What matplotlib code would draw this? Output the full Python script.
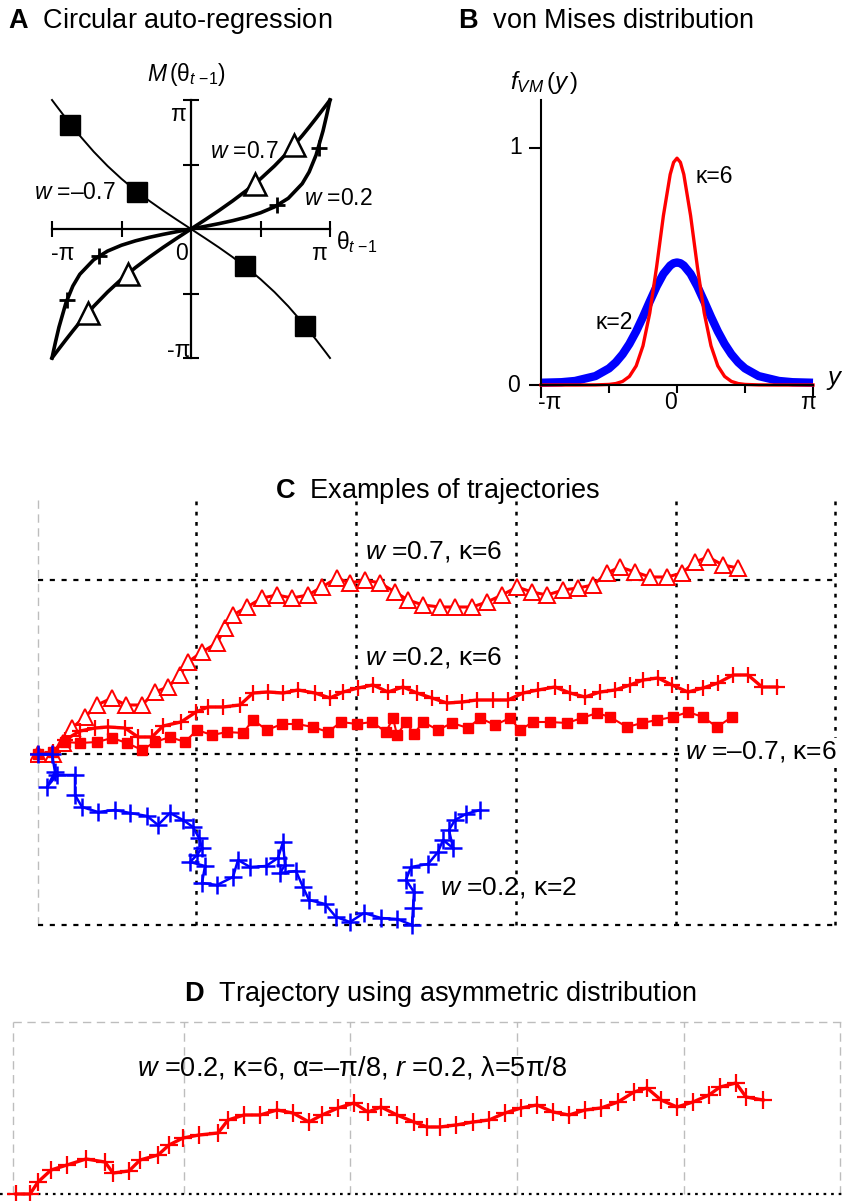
import numpy as np
import matplotlib
matplotlib.use("Agg")
import matplotlib.pyplot as plt

plt.rcParams['font.family'] = ['Liberation Sans', 'DejaVu Sans']
plt.rcParams['mathtext.fontset'] = 'custom'
plt.rcParams['mathtext.rm'] = 'Liberation Sans'
plt.rcParams['mathtext.it'] = 'Liberation Sans:italic'
plt.rcParams['mathtext.bf'] = 'Liberation Sans:bold'

PI = np.pi

# ---------------- data: panel A (fractions of pi) ----------------
a_theta_w02 = [-1, -0.99, -0.975, -0.95, -0.9, -0.85, -0.8, -0.7, -0.6, -0.5, -0.4, -0.3, -0.2, -0.1, 0,
               0.1, 0.2, 0.3, 0.4, 0.5, 0.6, 0.7, 0.8, 0.85, 0.9, 0.95, 0.975, 0.99, 1]
a_m_w02 = [-1, -0.95, -0.8765, -0.7614, -0.5735, -0.4422, -0.3512, -0.2382, -0.171, -0.1257, -0.0919, -0.0647,
           -0.0413, -0.0202, 0, 0.0202, 0.0413, 0.0647, 0.0919, 0.1257, 0.171, 0.2382, 0.3512, 0.4422, 0.5735,
           0.7614, 0.8765, 0.95, 1]
a_theta_w07 = [-1, -0.975, -0.95, -0.9, -0.85, -0.8, -0.7, -0.6, -0.5, -0.4, -0.3, -0.2, -0.1, 0,
               0.1, 0.2, 0.3, 0.4, 0.5, 0.6, 0.7, 0.8, 0.85, 0.9, 0.95, 0.975, 1]
a_m_w07 = [-1, -0.964, -0.9287, -0.8584, -0.7898, -0.7233, -0.5994, -0.4882, -0.3888, -0.2993, -0.2183, -0.1423,
           -0.0703, 0, 0.0703, 0.1423, 0.2183, 0.2993, 0.3888, 0.4882, 0.5994, 0.7233, 0.7898, 0.8584, 0.9287,
           0.964, 1]
a_m_wm07 = [1, 0.964, 0.9287, 0.8584, 0.7898, 0.7233, 0.5994, 0.4882, 0.3888, 0.2993, 0.2183, 0.1423,
            0.0703, 0, -0.0703, -0.1423, -0.2183, -0.2993, -0.3888, -0.4882, -0.5994, -0.7233, -0.7898, -0.8584,
            -0.9287, -0.964, -1]
a_tri_x = [-0.74, -0.45, 0.46, 0.74]
a_tri_y = [-0.65, -0.35, 0.35, 0.65]
a_plus_x = [-0.89, -0.66, 0.62, 0.92]
a_plus_y = [-0.55, -0.21, 0.185, 0.63]
a_sq_x = [-0.87, -0.39, 0.39, 0.82]
a_sq_y = [0.81, 0.29, -0.29, -0.75]

# ---------------- data: panel B ----------------
b_y_frac = [-1, -0.85, -0.75, -0.6, -0.5, -0.45, -0.4, -0.35, -0.3, -0.25, -0.2, -0.15, -0.1, -0.05, -0.025, 0,
            0.025, 0.05, 0.1, 0.15, 0.2, 0.25, 0.3, 0.35, 0.4, 0.45, 0.5, 0.6, 0.75, 0.85, 1]
b_kappa6 = [0, 0, 0, 0.0004, 0.0024, 0.0061, 0.0151, 0.0361, 0.0805, 0.165, 0.304, 0.497, 0.713, 0.887, 0.9375,
            0.955, 0.9375, 0.887, 0.713, 0.497, 0.304, 0.165, 0.0805, 0.0361, 0.0151, 0.0061, 0.0024, 0.0004, 0,
            0, 0]
b_kappa2 = [0.0095, 0.0118, 0.017, 0.0376, 0.0698, 0.0955, 0.1295, 0.173, 0.226, 0.287, 0.352, 0.415, 0.468,
            0.503, 0.5128, 0.516, 0.5128, 0.503, 0.468, 0.415, 0.352, 0.287, 0.226, 0.173, 0.1295, 0.0955, 0.0698,
            0.0376, 0.017, 0.0118, 0.0095]

# ---------------- data: panel C (position units) ----------------
c_tri_x = [0, 15, 25, 34, 47, 59, 74, 88, 104, 117, 130, 142, 150, 164, 179, 187, 195, 209, 224, 239, 254, 270,
           284, 299, 312, 327, 342, 357, 370, 385, 402, 417, 434, 449, 464, 479, 494, 509, 525, 540, 555, 569,
           582, 597, 612, 629, 644, 657, 670, 685, 700]
c_tri_y = [0, 0, 11, 26, 37, 49, 56, 49, 49, 62, 67, 79, 92, 102, 111, 126, 139, 147, 156, 159, 156, 159, 167,
           176, 171, 174, 171, 162, 154, 149, 147, 147, 147, 152, 159, 167, 162, 159, 164, 166, 169, 181, 187,
           182, 177, 177, 181, 192, 197, 189, 186]
c_plus_x = [0, 15, 27, 42, 57, 70, 87, 100, 114, 125, 143, 158, 170, 185, 202, 215, 230, 245, 260, 277, 292,
            305, 320, 335, 350, 365, 379, 394, 409, 424, 439, 455, 470, 485, 500, 517, 532, 547, 562, 577, 592,
            605, 620, 634, 650, 665, 680, 695, 710, 724, 739]
c_plus_y = [0, 2, 14, 23, 26, 27, 26, 17, 17, 28, 32, 42, 47, 47, 49, 61, 62, 61, 64, 61, 56, 62, 66, 69, 62,
            67, 61, 56, 51, 52, 54, 54, 54, 61, 64, 67, 61, 57, 62, 64, 69, 74, 76, 69, 62, 66, 71, 79, 79, 67, 67]
c_sq_x = [0, 15, 27, 42, 59, 74, 89, 104, 117, 132, 147, 159, 174, 189, 205, 215, 229, 244, 259, 275, 290, 303,
          319, 334, 348, 355, 359, 368, 376, 385, 400, 414, 430, 442, 457, 472, 482, 495, 512, 529, 544, 559,
          572, 589, 604, 619, 635, 650, 665, 679, 694]
c_sq_y = [0, 2, 12, 11, 12, 16, 11, 4, 12, 17, 12, 24, 19, 22, 21, 34, 24, 30, 30, 27, 22, 32, 30, 32, 22, 36,
          19, 32, 20, 32, 24, 31, 26, 36, 29, 36, 24, 32, 32, 31, 36, 41, 37, 27, 31, 34, 37, 42, 37, 27, 37]
c_blue_x = [0, 14, 17, 9, 19, 37, 37, 44, 60, 77, 92, 109, 120, 132, 145, 155, 161, 164, 159, 152, 167, 164,
            179, 195, 200, 212, 228, 240, 245, 247, 242, 258, 265, 271, 287, 298, 312, 326, 343, 359, 374, 375,
            376, 368, 373, 390, 400, 405, 415, 411, 417, 428, 442]
c_blue_y = [0, 0, -18, -33, -21, -21, -41, -53, -58, -56, -59, -62, -71, -59, -66, -73, -84, -94, -101, -108,
            -112, -129, -131, -123, -106, -113, -112, -104, -88, -111, -119, -117, -133, -146, -150, -163, -168,
            -159, -164, -165, -171, -154, -138, -126, -113, -110, -98, -86, -94, -76, -66, -60, -56]

# ---------------- data: panel D (position units) ----------------
d_x = [0, 14, 22, 35, 51, 70, 89, 97, 113, 124, 142, 153, 167, 183, 202, 212, 228, 244, 261, 277, 293, 306, 322,
       338, 352, 365, 381, 398, 411, 424, 440, 457, 473, 489, 505, 521, 537, 553, 569, 585, 602, 618, 631, 645,
       661, 677, 693, 704, 720, 730, 747]
d_y = [0, 0, 12, 24, 29, 35, 32, 21, 23, 34, 39, 49, 56, 59, 61, 74, 79, 79, 84, 81, 72, 79, 86, 91, 82, 87, 79,
       72, 67, 67, 69, 72, 74, 81, 86, 89, 82, 79, 84, 86, 92, 102, 106, 94, 87, 92, 99, 107, 111, 97, 94]

# ---------------- figure ----------------
W, H = 842, 1201
fig = plt.figure(figsize=(W / 100, H / 100), dpi=100)


def fx(px):
    return px / W


def fy(py):
    return 1 - py / H


TITLE_FS = 19.5
RED = '#ff0000'
BLUE = '#0000ff'

# titles
fig.text(fx(8), fy(21), r'$\mathbf{A}$  Circular auto-regression', fontsize=TITLE_FS, ha='left', va='center')
fig.text(fx(458), fy(21), r'$\mathbf{B}$  von Mises distribution', fontsize=TITLE_FS, ha='left', va='center')
fig.text(fx(438), fy(491), r'$\mathbf{C}$  Examples of trajectories', fontsize=TITLE_FS, ha='center', va='center')
fig.text(fx(440), fy(994), r'$\mathbf{D}$  Trajectory using asymmetric distribution', fontsize=TITLE_FS,
         ha='center', va='center')

# ---------------- panel A ----------------
axA = fig.add_axes([fx(52), fy(358), 278 / W, 258 / H])
axA.patch.set_alpha(0)
axA.set_xlim(-PI, PI)
axA.set_ylim(-PI, PI)
for s in ['top', 'right']:
    axA.spines[s].set_visible(False)
for s in ['left', 'bottom']:
    axA.spines[s].set_position(('data', 0))
    axA.spines[s].set_linewidth(1.6)
ticksA = [-PI, -PI / 2, PI / 2, PI]
axA.set_xticks(ticksA)
axA.set_yticks(ticksA)
axA.tick_params(direction='inout', length=11, width=1.5, labelbottom=False, labelleft=False)

axA.plot(np.array(a_theta_w07) * PI, np.array(a_m_wm07) * PI, color='black', lw=1.4, clip_on=False, zorder=3)
axA.plot(np.array(a_theta_w02) * PI, np.array(a_m_w02) * PI, color='black', lw=2.6, clip_on=False, zorder=3,
         solid_joinstyle='round')
axA.plot(np.array(a_theta_w07) * PI, np.array(a_m_w07) * PI, color='black', lw=2.6, clip_on=False, zorder=3)
axA.plot(np.array(a_sq_x) * PI, np.array(a_sq_y) * PI, ls='none', marker='s', ms=14, color='black', zorder=4)
axA.plot(np.array(a_tri_x) * PI, np.array(a_tri_y) * PI, ls='none', marker='^', ms=16, mfc='white',
         mec='black', mew=1.8, zorder=4)
axA.plot(np.array(a_plus_x) * PI, np.array(a_plus_y) * PI, ls='none', marker='+', ms=11, mew=2,
         color='black', zorder=4)

fsA = 16.5
axA.text(-0.92 * PI, -0.19 * PI, '-π', fontsize=fsA, ha='center', va='center')
axA.text(0.92 * PI, -0.19 * PI, 'π', fontsize=fsA, ha='center', va='center')
axA.text(-0.065 * PI, -0.19 * PI, '0', fontsize=fsA, ha='center', va='center')
axA.text(-0.09 * PI, 0.89 * PI, 'π', fontsize=fsA, ha='center', va='center')
axA.text(-0.09 * PI, -0.94 * PI, '-π', fontsize=fsA, ha='center', va='center')
axA.text(1.045 * PI, -0.1 * PI, r'$\mathrm{θ}_{\mathit{t}\ \mathrm{-1}}$', fontsize=fsA, ha='left', va='center')
axA.text(-0.03 * PI, 1.195 * PI, r'$\mathit{M}\,(\mathrm{θ}_{\mathit{t}\ \mathrm{-1}})$', fontsize=fsA,
         ha='center', va='center')
axA.text(0.633 * PI, 0.60 * PI, r'$\mathit{w}$ =0.7', fontsize=fsA, ha='right', va='center')
axA.text(-1.13 * PI, 0.28 * PI, r'$\mathit{w}$ =–0.7', fontsize=fsA, ha='left', va='center')
axA.text(0.81 * PI, 0.234 * PI, r'$\mathit{w}$ =0.2', fontsize=fsA, ha='left', va='center')

# ---------------- panel B ----------------
axB = fig.add_axes([fx(541), fy(385), 272 / W, 285 / H])
axB.patch.set_alpha(0)
axB.set_xlim(-PI, PI)
axB.set_ylim(0, 1.2)
for s in ['top', 'right']:
    axB.spines[s].set_visible(False)
for s in ['left', 'bottom']:
    axB.spines[s].set_linewidth(1.5)
axB.set_xticks([-PI, PI])
axB.set_xticks([-PI / 2, 0, PI / 2], minor=True)
axB.set_yticks([0, 1])
axB.tick_params(which='major', direction='out', length=9, width=1.5, labelbottom=False, labelleft=False)
axB.tick_params(which='minor', direction='out', length=6, width=1.5)
bx = np.array(b_y_frac) * PI
axB.plot(bx, b_kappa2, color=BLUE, lw=6, clip_on=False, solid_capstyle='butt')
axB.plot(bx, b_kappa6, color=RED, lw=2.4, clip_on=False, solid_joinstyle='round')
fsB = 16.5
axB.text(-0.934 * PI, -0.075, '-π', fontsize=fsB, ha='center', va='center')
axB.text(-0.05 * PI, -0.075, '0', fontsize=fsB, ha='center', va='center')
axB.text(0.963 * PI, -0.075, 'π', fontsize=fsB, ha='center', va='center')
axB.text(-1.19 * PI, 1.0, '1', fontsize=fsB, ha='center', va='center')
axB.text(-1.2 * PI, 0.0, '0', fontsize=fsB, ha='center', va='center')
axB.text(1.16 * PI, 0.02, r'$\mathit{y}$', fontsize=fsB + 2, ha='center', va='center')
axB.text(-0.98 * PI, 1.274, r'$\mathit{f}_{\mathit{VM}}\,(\mathit{y}\,)$', fontsize=fsB + 1, ha='center',
         va='center')
axB.text(0.272 * PI, 0.878, 'κ=6', fontsize=fsB, ha='center', va='center')
axB.text(-0.463 * PI, 0.262, 'κ=2', fontsize=fsB, ha='center', va='center')

# ---------------- panel C ----------------
axC = fig.add_axes([fx(30), fy(934), 812 / W, 437 / H])
axC.set_xlim(-8, 804)
axC.set_ylim(-180, 257)
axC.axis('off')
c_vgrid = [158, 318, 478, 638, 797]
c_hgrid = [174, 0, -171]
axC.plot([0, 0], [-171, 257], color='#bdbdbd', lw=1.0, ls=(0, (6, 4)))
for xv in c_vgrid:
    axC.plot([xv, xv], [-171, 257], color='black', lw=1.8, ls=(0, (1.5, 2.6)))
for yv in c_hgrid:
    axC.plot([0, 797], [yv, yv], color='black', lw=1.6, ls=(0, (2.3, 3.0)))

axC.plot(c_tri_x, c_tri_y, color=RED, lw=2.2, marker='^', ms=11.5, mfc='white', mec=RED, mew=1.4, zorder=3)
axC.plot(c_plus_x, c_plus_y, color=RED, lw=2.4, marker='+', ms=12, mew=1.6, zorder=3)
axC.plot(c_sq_x, c_sq_y, color=RED, lw=1.5, marker='s', ms=7, zorder=3)
axC.plot(c_blue_x, c_blue_y, color=BLUE, lw=1.8, marker='+', ms=13, mew=1.8, zorder=4)

fsC = 19
axC.text(327, 202, r'$\mathit{w}$ =0.7, κ=6', fontsize=fsC, ha='left', va='center')
axC.text(327, 96, r'$\mathit{w}$ =0.2, κ=6', fontsize=fsC, ha='left', va='center')
axC.text(647, 2, r'$\mathit{w}$ =–0.7, κ=6', fontsize=fsC, ha='left', va='center',
         bbox=dict(facecolor='white', edgecolor='none', pad=1), zorder=5)
axC.text(402, -134, r'$\mathit{w}$ =0.2, κ=2', fontsize=fsC, ha='left', va='center')

# ---------------- panel D ----------------
axD = fig.add_axes([0, 0, 1, 191 / H])
axD.set_xlim(-16, 826)
axD.set_ylim(-7, 184)
axD.axis('off')
d_vgrid = [-3, 168, 334, 501, 668, 824]
for xv in d_vgrid:
    axD.plot([xv, xv], [0, 172], color='#bdbdbd', lw=1.0, ls=(0, (6, 4)))
axD.plot([-3, 826], [172, 172], color='#bdbdbd', lw=1.0, ls=(0, (6, 4)))
axD.plot([-16, 826], [0, 0], color='black', lw=1.6, ls=(0, (1.2, 2.2)))
axD.plot(d_x, d_y, color=RED, lw=2.4, marker='+', ms=13, mew=1.6, zorder=3, clip_on=False)
axD.text(121, 126, r'$\mathit{w}$ =0.2, κ=6, α=–π/8, $\mathit{r}$ =0.2, λ=5π/8', fontsize=19.5, ha='left',
         va='center')

fig.savefig('out.png', dpi=100)
